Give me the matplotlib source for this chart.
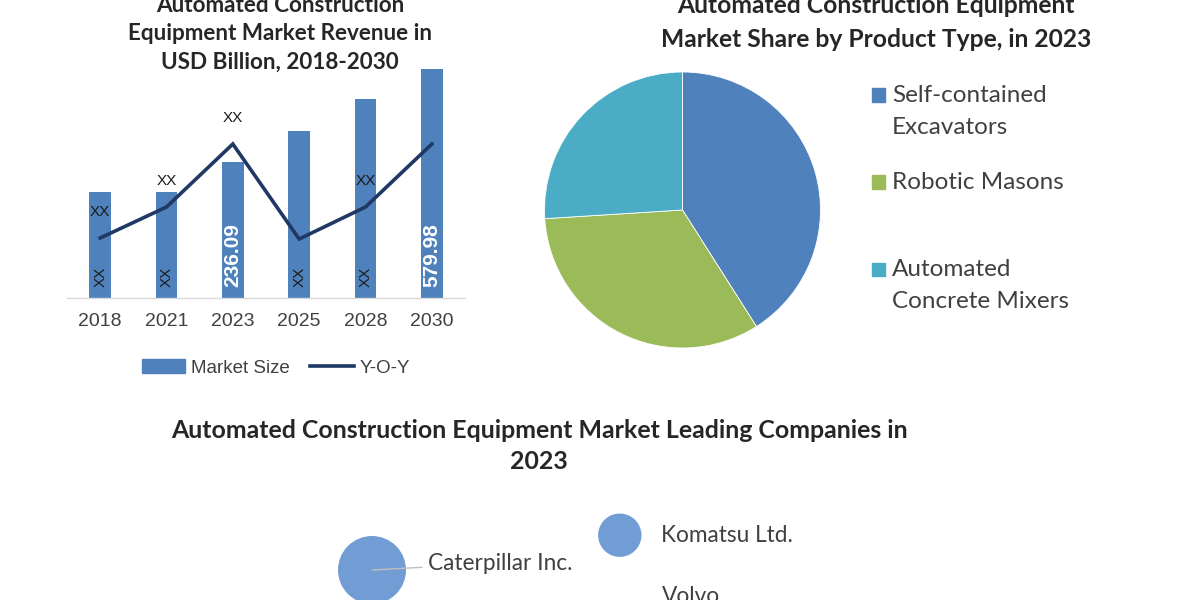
import matplotlib
matplotlib.use('Agg')
import matplotlib.pyplot as plt
from matplotlib.patches import Patch, Rectangle
from matplotlib.lines import Line2D

# ---------------- data ----------------
years = ['2018', '2021', '2023', '2025', '2028', '2030']
market_size = [268, 268, 345, 423, 504, 580]
yoy = [6.0, 9.1, 15.4, 5.9, 9.1, 15.4]
bar_labels = ['XX', 'XX', '236.09', 'XX', 'XX', '579.98']
yoy_labels = ['XX', 'XX', 'XX', '', 'XX', '']

product_types = ['Self-contained\nExcavators', 'Robotic Masons', 'Automated\nConcrete Mixers']
product_share = [41, 33, 26]

companies = ['Caterpillar Inc.', 'Komatsu Ltd.', 'Volvo']
company_x = [1.2, 5.33, 5.33]
company_y = [2.5, 5.4, -1.6]
company_size = [24.0, 9.75, 5.0]

# ---------------- style ----------------
W, H = 1200, 600
fig = plt.figure(figsize=(12, 6), dpi=100)
fig.patch.set_facecolor('white')


def fx(px):
    return px / W


def fy(py):
    return 1 - py / H


BAR_C = '#4f81bd'
LINE_C = '#1f3864'
TXT = '#404040'
TITLE_C = '#262626'
PIE_C = ['#4f81bd', '#9bbb59', '#4bacc6']
BUBBLE_C = '#729dd4'
SANS = 'Liberation Sans'
CAL = 'Lato'

# ---------------- bar + line chart ----------------
ax = fig.add_axes([fx(67), fy(298), fx(398), 250 / H])
xs = list(range(len(years)))
ax.bar(xs, market_size, width=0.33, color=BAR_C, zorder=2)
ax.set_xlim(-0.5, len(years) - 0.5)
ax.set_ylim(0, 633)
for s in ['top', 'left', 'right']:
    ax.spines[s].set_visible(False)
ax.spines['bottom'].set_color('#d9d9d9')
ax.spines['bottom'].set_linewidth(1.0)
ax.set_yticks([])
ax.set_xticks(xs)
ax.set_xticklabels(years, fontsize=14, color=TXT, family=SANS)
ax.tick_params(axis='x', length=0, pad=11)

for i, lab in enumerate(bar_labels):
    is_num = lab.replace('.', '').isdigit()
    ax.annotate(lab, (xs[i], 0), xytext=(0, 8), textcoords='offset points',
                rotation=90, ha='center', va='bottom',
                fontsize=15 if is_num else 11,
                fontweight='bold' if is_num else 'normal',
                color='white' if is_num else '#1a1a1a', family=SANS, zorder=3)

ax2 = ax.twinx()
ax2.set_ylim(0, 25)
ax2.plot(xs, yoy, color=LINE_C, lw=2.6, solid_joinstyle='miter', zorder=4)
ax2.axis('off')
for i, lab in enumerate(yoy_labels):
    if lab:
        ax2.annotate(lab, (xs[i], yoy[i]), xytext=(0, 18.7), textcoords='offset points',
                     ha='center', va='center', fontsize=11, color='#1a1a1a', family=SANS)

handles = [Patch(color=BAR_C, label='Market Size'),
           Line2D([], [], color=LINE_C, lw=2.6, label='Y-O-Y')]
fig.legend(handles=handles, loc='center', bbox_to_anchor=(fx(276), fy(368)), ncol=2,
           frameon=False, prop={'family': SANS, 'size': 13.5}, handlelength=2.3,
           handletextpad=0.3, columnspacing=1.1, labelcolor=TXT)

fig.text(fx(280), fy(33.5), 'Automated Construction\nEquipment Market Revenue in\nUSD Billion, 2018-2030',
         ha='center', va='center', fontsize=16.2, fontweight='bold', family=CAL,
         linespacing=1.43, color=TITLE_C)

# ---------------- pie chart ----------------
axp = fig.add_axes([fx(544.5), fy(348), 276 / W, 276 / H])
axp.pie(product_share, colors=PIE_C, startangle=90, counterclock=False,
        wedgeprops=dict(linewidth=0.6, edgecolor='white'))
axp.set_xlim(-1, 1)
axp.set_ylim(-1, 1)

fig.text(fx(876), fy(22.5), 'Automated Construction Equipment\nMarket Share by Product Type, in 2023',
         ha='center', va='center', fontsize=17.7, fontweight='bold', family=CAL,
         linespacing=1.58, color=TITLE_C)

for i, (lab, col) in enumerate(zip(product_types, PIE_C)):
    ycen = 95 + 87 * i
    fig.patches.append(Rectangle((fx(872), fy(ycen + 6.5)), 13 / W, 13 / H,
                                 transform=fig.transFigure, color=col))
    fig.text(fx(892), fy(ycen - 10), lab, ha='left', va='top', fontsize=17.5,
             family=CAL, color=TXT, linespacing=1.62,
             transform=fig.transFigure)

# ---------------- bubble chart ----------------
fig.text(fx(539), fy(446),
         'Automated Construction Equipment Market Leading Companies in\n2023',
         ha='center', va='center', fontsize=17.9, fontweight='bold', family=CAL,
         linespacing=1.43, color=TITLE_C)

axb = fig.add_axes([fx(300), 0, fx(600), 120 / H])
axb.set_xlim(0, 10)
axb.set_ylim(0, 10)
axb.axis('off')
axb.scatter(company_x, company_y, s=[v * 100 for v in company_size], color=BUBBLE_C,
            edgecolor='none', clip_on=False, zorder=2)
label_offsets = [(40, 5), (30, 0), (30, 16)]
for i, name in enumerate(companies):
    arrow = dict(arrowstyle='-', color='#bfbfbf', lw=1, shrinkA=2, shrinkB=0) if i == 0 else None
    axb.annotate(name, (company_x[i], company_y[i]), xytext=label_offsets[i],
                 textcoords='offset points', ha='left', va='center', fontsize=16.3,
                 family=CAL, color=TXT, arrowprops=arrow, annotation_clip=False)

fig.savefig('out.png', dpi=100, facecolor='white')
